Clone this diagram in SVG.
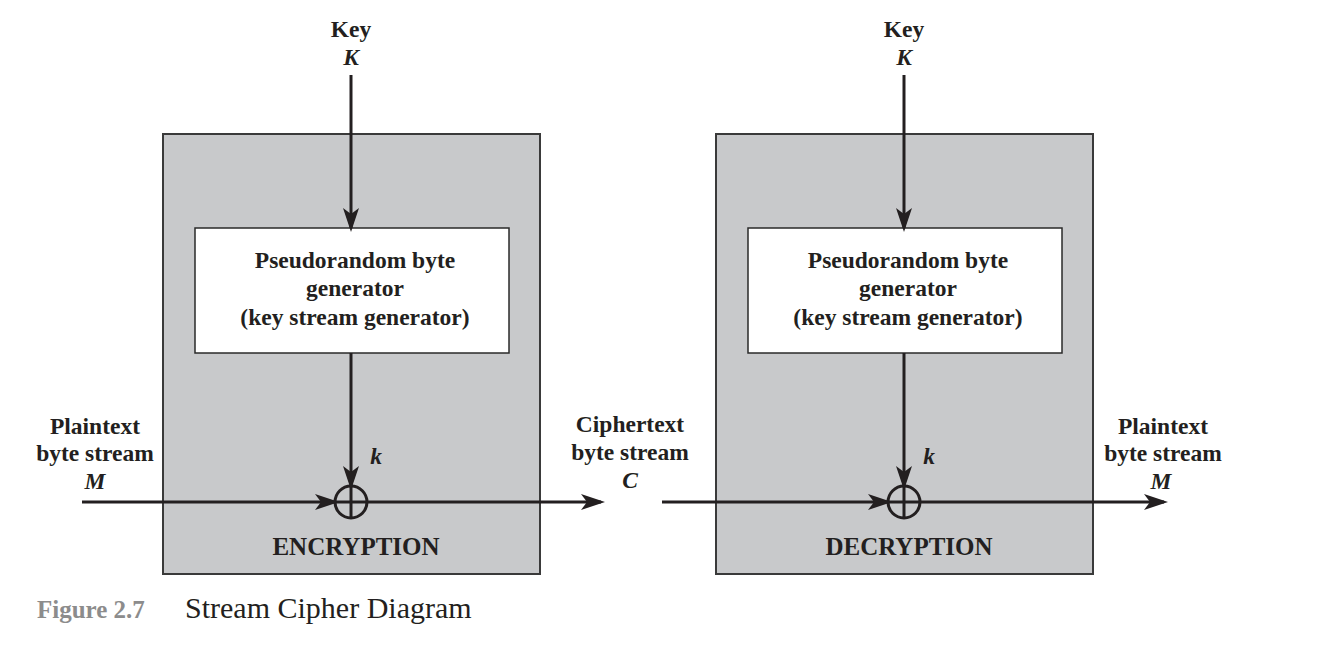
<svg xmlns="http://www.w3.org/2000/svg" width="1330" height="668" viewBox="0 0 1330 668">
<style>
.outer{fill:#c8c9cb;stroke:#3a3a3a;stroke-width:2}
.inner{fill:#ffffff;stroke:#2a2a2a;stroke-width:1.5}
.t{font-family:"Liberation Serif",serif;font-weight:bold;font-size:23.5px;fill:#231f20;text-anchor:middle}
.big{font-size:25px}
.i{font-style:italic}
.ln{stroke:#231f20;stroke-width:3;fill:none}
.xor{fill:none;stroke:#231f20;stroke-width:3}
</style>
<defs>
<marker id="ahv" markerWidth="24" markerHeight="16" refX="20" refY="8" orient="auto" markerUnits="userSpaceOnUse" viewBox="0 0 24 16">
<path d="M0,0 L24,8 L0,16 L6,8 Z" fill="#231f20"/>
</marker>
</defs>
<rect width="1330" height="668" fill="#ffffff"/>
<g id="encryption">
<rect class="outer" x="163" y="134" width="377" height="440"/>
<text class="t big" x="356" y="555">ENCRYPTION</text>
</g>
<g id="decryption">
<rect class="outer" x="716" y="134" width="377" height="440"/>
<text class="t big" x="909" y="555">DECRYPTION</text>
</g>
<g id="gen1">
<rect class="inner" x="195" y="228" width="314" height="125"/>
<text class="t" x="355" y="268">Pseudorandom byte</text>
<text class="t" x="355" y="296">generator</text>
<text class="t" x="355" y="325">(key stream generator)</text>
</g>
<g id="gen2">
<rect class="inner" x="748" y="228" width="314" height="125"/>
<text class="t" x="908" y="268">Pseudorandom byte</text>
<text class="t" x="908" y="296">generator</text>
<text class="t" x="908" y="325">(key stream generator)</text>
</g>
<g id="xor1">
<circle class="xor" cx="351" cy="502" r="16"/>
<line class="ln" x1="335" y1="502" x2="367" y2="502"/>
<line class="ln" x1="351" y1="486" x2="351" y2="518"/>
</g>
<g id="xor2">
<circle class="xor" cx="904" cy="502" r="16"/>
<line class="ln" x1="888" y1="502" x2="920" y2="502"/>
<line class="ln" x1="904" y1="486" x2="904" y2="518"/>
</g>
<g id="key1">
<text class="t" x="351" y="37">Key</text>
<text class="t i" x="351" y="65">K</text>
</g>
<g id="key2">
<text class="t" x="904" y="37">Key</text>
<text class="t i" x="904" y="65">K</text>
</g>
<g id="labels">
<text class="t" x="95" y="434">Plaintext</text>
<text class="t" x="95" y="461">byte stream</text>
<text class="t i" x="95" y="489">M</text>
<text class="t" x="630" y="432">Ciphertext</text>
<text class="t" x="630" y="460">byte stream</text>
<text class="t i" x="630" y="488">C</text>
<text class="t" x="1163" y="434">Plaintext</text>
<text class="t" x="1163" y="461">byte stream</text>
<text class="t i" x="1161" y="489">M</text>
<text class="t i" x="376" y="464">k</text>
<text class="t i" x="929" y="464">k</text>
</g>
<g id="connectors">
<line class="ln" x1="351" y1="75" x2="351" y2="228" marker-end="url(#ahv)"/>
<line class="ln" x1="351" y1="353" x2="351" y2="486" marker-end="url(#ahv)"/>
<line class="ln" x1="82" y1="502" x2="335" y2="502" marker-end="url(#ahv)"/>
<line class="ln" x1="367" y1="502" x2="601" y2="502" marker-end="url(#ahv)"/>
<line class="ln" x1="904" y1="75" x2="904" y2="228" marker-end="url(#ahv)"/>
<line class="ln" x1="904" y1="353" x2="904" y2="486" marker-end="url(#ahv)"/>
<line class="ln" x1="662" y1="502" x2="888" y2="502" marker-end="url(#ahv)"/>
<line class="ln" x1="920" y1="502" x2="1164" y2="502" marker-end="url(#ahv)"/>
</g>
<g id="caption">
<text x="37" y="618" font-family="Liberation Serif,serif" font-weight="bold" font-size="25" fill="#8c8c8c">Figure 2.7</text>
<text x="185" y="618" font-family="Liberation Serif,serif" font-size="30" fill="#231f20">Stream Cipher Diagram</text>
</g>
</svg>
